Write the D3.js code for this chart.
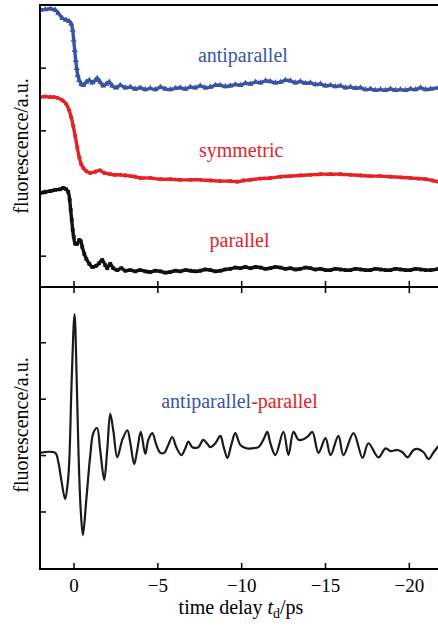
<!DOCTYPE html>
<html>
<head>
<meta charset="utf-8">
<script src="https://cdn.jsdelivr.net/npm/d3@7"></script>
<style>
  html, body { margin: 0; padding: 0; background: #fff; }
  svg { display: block; }
  text { font-family: "Liberation Serif", "Times New Roman", serif; }
</style>
</head>
<body>
<div id="chart"></div>
<script>
// Time delay in ps, fluorescence in arbitrary units (traces offset vertically)
const antiparallel = [[1.99,4.42],[1.69,4.43],[1.39,4.44],[1.09,4.42],[0.91,4.37],[0.67,4.29],[0.44,4.26],[0.26,4.24],[0.14,4.20],[0.05,4.10],[-0.01,3.94],[-0.07,3.78],[-0.13,3.62],[-0.19,3.49],[-0.25,3.38],[-0.34,3.30],[-0.46,3.24],[-0.58,3.22],[-0.76,3.27],[-0.94,3.30],[-1.12,3.26],[-1.30,3.30],[-1.41,3.33],[-1.59,3.27],[-1.77,3.21],[-1.95,3.24],[-2.13,3.27],[-2.31,3.21],[-2.55,3.18],[-2.79,3.22],[-3.09,3.18],[-3.39,3.19],[-3.68,3.16],[-3.98,3.18],[-4.28,3.15],[-4.58,3.17],[-4.88,3.15],[-5.18,3.19],[-5.47,3.16],[-5.77,3.15],[-6.07,3.17],[-6.37,3.18],[-6.67,3.16],[-6.97,3.19],[-7.26,3.18],[-7.56,3.21],[-7.86,3.18],[-8.16,3.19],[-8.46,3.22],[-8.76,3.22],[-9.05,3.20],[-9.35,3.21],[-9.65,3.23],[-9.95,3.22],[-10.25,3.25],[-10.55,3.24],[-10.85,3.27],[-11.15,3.26],[-11.45,3.29],[-11.74,3.28],[-12.04,3.26],[-12.34,3.27],[-12.64,3.30],[-12.94,3.29],[-13.23,3.26],[-13.53,3.28],[-13.83,3.25],[-14.13,3.26],[-14.43,3.23],[-14.73,3.24],[-15.03,3.21],[-15.33,3.22],[-15.62,3.20],[-15.92,3.21],[-16.22,3.18],[-16.52,3.19],[-16.82,3.17],[-17.12,3.18],[-17.41,3.15],[-17.71,3.16],[-18.01,3.14],[-18.31,3.15],[-18.61,3.14],[-18.91,3.16],[-19.20,3.14],[-19.50,3.15],[-19.80,3.14],[-20.10,3.16],[-20.40,3.15],[-20.70,3.18],[-21.00,3.15],[-21.30,3.16],[-21.77,3.18]];

const symmetric = [[1.99,3.03],[1.69,3.04],[1.39,3.03],[1.18,3.03],[0.97,3.02],[0.67,2.98],[0.44,2.92],[0.26,2.82],[0.14,2.71],[0.02,2.57],[-0.10,2.41],[-0.22,2.23],[-0.34,2.07],[-0.46,1.96],[-0.58,1.90],[-0.76,1.85],[-1.00,1.82],[-1.30,1.84],[-1.59,1.86],[-1.83,1.82],[-2.19,1.80],[-2.49,1.79],[-2.79,1.79],[-3.09,1.78],[-3.39,1.77],[-3.68,1.76],[-3.98,1.74],[-4.58,1.74],[-5.18,1.72],[-5.77,1.72],[-6.37,1.71],[-6.97,1.71],[-7.56,1.71],[-8.16,1.70],[-8.76,1.69],[-9.35,1.69],[-9.77,1.68],[-10.15,1.70],[-10.55,1.71],[-11.15,1.73],[-11.74,1.74],[-12.34,1.76],[-12.94,1.77],[-13.53,1.78],[-14.13,1.79],[-14.73,1.80],[-15.33,1.80],[-15.92,1.80],[-16.52,1.79],[-17.12,1.78],[-17.71,1.77],[-18.31,1.77],[-18.91,1.76],[-19.50,1.75],[-20.10,1.74],[-20.55,1.73],[-21.00,1.72],[-21.40,1.70],[-21.77,1.68]];

const parallel = [[1.99,1.50],[1.69,1.52],[1.39,1.53],[1.09,1.55],[0.79,1.56],[0.61,1.58],[0.44,1.56],[0.32,1.52],[0.23,1.39],[0.17,1.23],[0.11,1.07],[0.05,0.91],[-0.01,0.80],[-0.10,0.69],[-0.22,0.69],[-0.34,0.75],[-0.43,0.73],[-0.52,0.64],[-0.64,0.53],[-0.76,0.45],[-0.94,0.37],[-1.12,0.32],[-1.36,0.34],[-1.53,0.38],[-1.71,0.43],[-1.89,0.35],[-2.01,0.30],[-2.19,0.37],[-2.37,0.30],[-2.61,0.27],[-2.85,0.30],[-3.09,0.26],[-3.39,0.27],[-3.68,0.25],[-3.98,0.27],[-4.28,0.25],[-4.58,0.24],[-4.88,0.26],[-5.18,0.25],[-5.47,0.23],[-5.77,0.24],[-6.07,0.26],[-6.37,0.25],[-6.67,0.27],[-6.97,0.26],[-7.26,0.25],[-7.56,0.26],[-7.86,0.28],[-8.16,0.27],[-8.46,0.25],[-8.76,0.26],[-9.05,0.28],[-9.35,0.29],[-9.65,0.31],[-9.95,0.30],[-10.25,0.32],[-10.55,0.30],[-10.85,0.32],[-11.15,0.31],[-11.45,0.29],[-11.74,0.30],[-12.04,0.32],[-12.34,0.31],[-12.64,0.29],[-12.94,0.30],[-13.23,0.28],[-13.53,0.29],[-13.83,0.31],[-14.13,0.30],[-14.43,0.28],[-14.73,0.29],[-15.03,0.27],[-15.33,0.27],[-15.62,0.29],[-15.92,0.28],[-16.22,0.27],[-16.52,0.27],[-16.82,0.29],[-17.12,0.28],[-17.41,0.27],[-17.71,0.27],[-18.01,0.29],[-18.31,0.28],[-18.61,0.27],[-18.91,0.27],[-19.20,0.29],[-19.50,0.28],[-19.80,0.27],[-20.10,0.27],[-20.40,0.29],[-20.70,0.28],[-21.00,0.27],[-21.30,0.27],[-21.77,0.29]];

// antiparallel minus parallel
const difference = [[1.99,0.04],[1.09,0.04],[0.91,-0.12],[0.73,-0.44],[0.50,-0.78],[0.33,-0.45],[0.24,0],[0.11,1.33],[-0.06,2.50],[-0.19,1.33],[-0.30,0],[-0.43,-0.98],[-0.56,-1.42],[-0.76,-0.80],[-1.00,0],[-1.18,0.39],[-1.40,0.48],[-1.59,0.09],[-1.83,-0.44],[-2.01,0.09],[-2.19,0.73],[-2.37,0.44],[-2.61,-0.04],[-2.91,0.27],[-3.21,0.44],[-3.39,0.21],[-3.62,-0.16],[-3.80,0.09],[-4.01,0.41],[-4.28,0.02],[-4.46,0.27],[-4.70,0.39],[-4.94,0.18],[-5.18,0.04],[-5.41,0.04],[-5.65,0.18],[-5.89,0.32],[-6.13,0.14],[-6.43,0],[-6.67,0.12],[-6.85,0.24],[-7.09,0.14],[-7.44,0.14],[-7.74,0.27],[-7.98,0.20],[-8.16,0.14],[-8.46,0.21],[-8.76,0.34],[-8.94,0.16],[-9.18,-0.05],[-9.41,0.18],[-9.65,0.39],[-9.95,0.18],[-10.31,0.12],[-10.67,0.12],[-11.03,0.14],[-11.32,0.27],[-11.56,0.41],[-11.74,0.21],[-12.04,0],[-12.52,0.41],[-12.82,0],[-13.12,0.41],[-13.42,0.27],[-13.71,0.28],[-14.01,0.34],[-14.25,0.41],[-14.61,0.04],[-15.03,0.30],[-15.33,0],[-15.80,0.34],[-16.10,0],[-16.70,0.39],[-17.24,-0.05],[-17.59,0.21],[-18.19,-0.04],[-18.61,0.12],[-18.91,0.07],[-19.33,0.09],[-19.62,0.05],[-19.92,-0.04],[-20.28,0.09],[-20.52,0.11],[-20.88,0.05],[-21.18,-0.07],[-21.48,0.05],[-21.77,0.16]];

const xTicks = [0, -5, -10, -15, -20];
const topYTicks = [0.5, 1.5, 2.5, 3.5];
const bottomYTicks = [-1, 0, 1, 2];

const traceLabels = [
  { text: "antiparallel", t: -10.1, v: 3.59, color: "#3a54a4" },
  { text: "symmetric", t: -10.0, v: 2.08, color: "#e62226" },
  { text: "parallel", t: -9.9, v: 0.64, color: "#e62226" }
];

const W = 438, H = 629;
const left = 40, right = 439;
const topY0 = 5, midY = 287, botY1 = 569;
const blue = "#3a54a4", red = "#e62226";

const svg = d3.select("#chart").append("svg")
  .attr("width", W).attr("height", H);

const x = d3.scaleLinear().domain([2, -21.8]).range([left, right]);
const yTop = d3.scaleLinear().domain([0, 4.5]).range([midY, topY0]);
const yBot = d3.scaleLinear().domain([-2.02, 2.98]).range([botY1, midY]);

const defs = svg.append("defs");
defs.append("clipPath").attr("id", "clipTop").append("rect")
  .attr("x", left).attr("y", topY0).attr("width", W - left).attr("height", midY - topY0);
defs.append("clipPath").attr("id", "clipBot").append("rect")
  .attr("x", left).attr("y", midY).attr("width", W - left).attr("height", botY1 - midY);

// ---- top panel: three polarization traces ----
const gTop = svg.append("g").attr("clip-path", "url(#clipTop)");
const lineTop = d3.line().x(d => x(d[0])).y(d => yTop(d[1])).curve(d3.curveCatmullRom.alpha(0.5));

const series = [
  { data: antiparallel, color: blue, symbol: d3.symbolTriangle, size: 16 },
  { data: symmetric, color: red, symbol: d3.symbolCircle, size: 14 },
  { data: parallel, color: "#111", symbol: d3.symbolSquare, size: 14 }
];
series.forEach(s => {
  gTop.append("path").datum(s.data)
    .attr("d", lineTop)
    .attr("fill", "none")
    .attr("stroke", s.color)
    .attr("stroke-width", 3.4)
    .attr("stroke-linejoin", "round");
  gTop.selectAll(null).data(s.data).enter().append("path")
    .attr("transform", d => `translate(${x(d[0])},${yTop(d[1])})`)
    .attr("d", d3.symbol().type(s.symbol).size(s.size))
    .attr("fill", s.color);
});

svg.selectAll(null).data(traceLabels).enter().append("text")
  .attr("x", d => x(d.t)).attr("y", d => yTop(d.v))
  .attr("text-anchor", "middle")
  .attr("font-size", 20)
  .attr("fill", d => d.color)
  .text(d => d.text);

// ---- bottom panel: difference trace ----
const gBot = svg.append("g").attr("clip-path", "url(#clipBot)");
const lineBot = d3.line().x(d => x(d[0])).y(d => yBot(d[1])).curve(d3.curveCatmullRom.alpha(0.5));
gBot.append("path").datum(difference)
  .attr("d", lineBot)
  .attr("fill", "none")
  .attr("stroke", "#1a1a1a")
  .attr("stroke-width", 2.2)
  .attr("stroke-linejoin", "round");

const diffLabel = svg.append("text")
  .attr("x", x(-9.9)).attr("y", yBot(0.835))
  .attr("text-anchor", "middle")
  .attr("font-size", 20);
diffLabel.append("tspan").attr("fill", blue).text("antiparallel");
diffLabel.append("tspan").attr("fill", red).text("-parallel");

// ---- axes and frame ----
const axisStyle = g => {
  g.selectAll(".domain").remove();
  g.selectAll(".tick line").attr("stroke", "#000").attr("stroke-width", 1.5);
  g.selectAll(".tick text").attr("font-size", 19).attr("fill", "#000");
};

svg.append("g").attr("transform", `translate(${left},0)`)
  .call(d3.axisLeft(yTop).tickValues(topYTicks).tickSize(-6).tickFormat(""))
  .call(axisStyle);
svg.append("g").attr("transform", `translate(${left},0)`)
  .call(d3.axisLeft(yBot).tickValues(bottomYTicks).tickSize(-6).tickFormat(""))
  .call(axisStyle);
// x ticks on the shared divider (both panels) and on the bottom edge
svg.append("g").attr("transform", `translate(0,${midY})`)
  .call(d3.axisBottom(x).tickValues(xTicks).tickSize(-6).tickFormat(""))
  .call(axisStyle);
svg.append("g").attr("transform", `translate(0,${midY})`)
  .call(d3.axisTop(x).tickValues(xTicks).tickSize(-6).tickFormat(""))
  .call(axisStyle);
const xAxisBottom = svg.append("g").attr("transform", `translate(0,${botY1})`)
  .call(d3.axisBottom(x).tickValues(xTicks).tickSize(-6)
    .tickFormat(d => d === 0 ? "0" : "\u2212" + Math.abs(d)))
  .call(axisStyle);
xAxisBottom.selectAll(".tick text").attr("y", 23).attr("dy", null);

const frame = svg.append("g").attr("stroke", "#000").attr("stroke-width", 2).attr("fill", "none");
frame.append("line").attr("x1", left).attr("x2", W).attr("y1", topY0).attr("y2", topY0);
frame.append("line").attr("x1", left).attr("x2", W).attr("y1", midY).attr("y2", midY);
frame.append("line").attr("x1", left).attr("x2", W).attr("y1", botY1).attr("y2", botY1);
frame.append("line").attr("x1", left).attr("x2", left).attr("y1", topY0 - 1).attr("y2", botY1 + 1);

// axis titles
[ (topY0 + midY) / 2, (midY + botY1) / 2 - 3 ].forEach(cy => {
  svg.append("text")
    .attr("transform", `translate(28,${cy}) rotate(-90)`)
    .attr("text-anchor", "middle")
    .attr("font-size", 20)
    .text("fluorescence/a.u.");
});

const xTitle = svg.append("text")
  .attr("x", (left + W) / 2 + 2).attr("y", 614)
  .attr("text-anchor", "middle")
  .attr("font-size", 20);
xTitle.append("tspan").text("time delay ");
xTitle.append("tspan").attr("font-style", "italic").text("t");
xTitle.append("tspan").attr("font-size", 14).attr("dy", 4).text("d");
xTitle.append("tspan").attr("dy", -4).text("/ps");
</script>
</body>
</html>
